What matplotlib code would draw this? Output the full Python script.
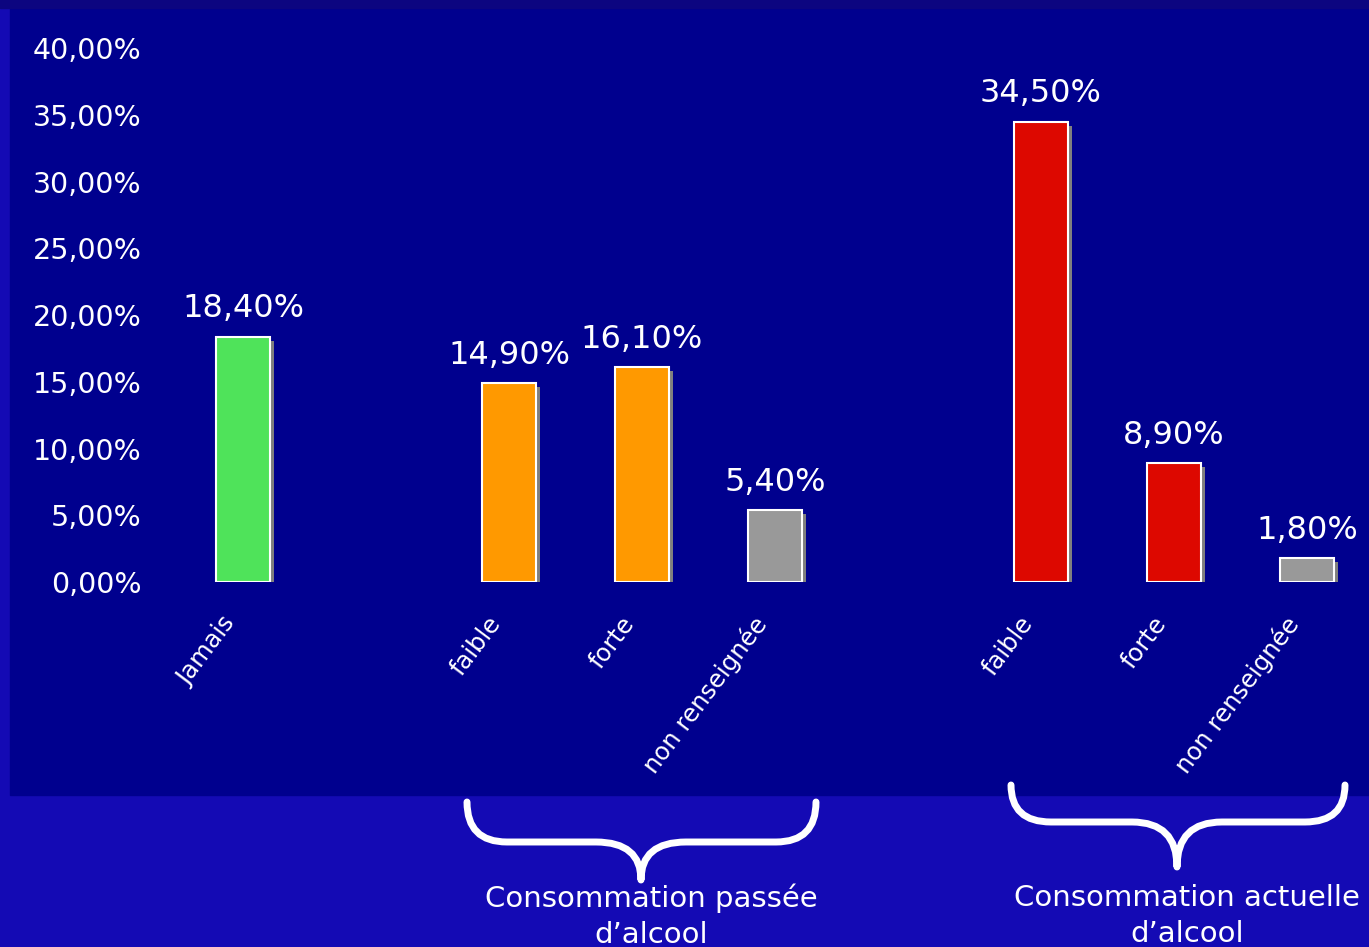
import numpy as np
import matplotlib.pyplot as plt
from matplotlib.patches import Rectangle, PathPatch
from matplotlib.path import Path

# data
categories = ['Jamais', 'faible', 'forte', 'non renseignée', 'faible', 'forte', 'non renseignée']
positions = [0, 2, 3, 4, 6, 7, 8]
values = [18.4, 14.9, 16.1, 5.4, 34.5, 8.9, 1.8]
colors = ['#4fe35a', '#ff9900', '#ff9900', '#999999', '#dd0800', '#dd0800', '#999999']
groups = ['Consommation passée\nd\u2019alcool', 'Consommation actuelle\nd\u2019alcool']
yticks = [0, 5, 10, 15, 20, 25, 30, 35, 40]

W, H = 1369, 947
fig = plt.figure(figsize=(W / 100, H / 100), dpi=100)
fig.patch.set_facecolor('#140ab4')

# dark panel behind the chart, and the darker strip at the very top
fig.patches.append(Rectangle((10 / W, 1 - 795 / H), 1 - 10 / W, (795 - 8) / H,
                             transform=fig.transFigure, color='#00008e', zorder=0))
fig.patches.append(Rectangle((0, 1 - 8 / H), 1, 8 / H,
                             transform=fig.transFigure, color='#0c0580', zorder=0))

# axes: y=0 at pixel 582, y=40 at pixel 48 ; x=0 at pixel 243, 133 px per unit
left_px = 150
ax = fig.add_axes([left_px / W, 1 - 582 / H, 1 - left_px / W, (582 - 48.4) / H])
ax.set_zorder(2)
ax.set_facecolor('none')
ax.set_xlim((left_px - 243) / 133, (W - 243) / 133)
ax.set_ylim(0, 40)
for s in ax.spines.values():
    s.set_visible(False)

# shadow bars, then the coloured bars with white edge
ax.bar(np.array(positions) + 0.035, np.array(values) - 0.3, width=0.4,
       color='#7f7f7f', zorder=1)
ax.bar(positions, values, width=0.4, color=colors, edgecolor='white',
       linewidth=1.5, zorder=2)

for x, v in zip(positions, values):
    ax.text(x, v + 1.45, ('%.2f%%' % v).replace('.', ','), ha='center',
            va='baseline', color='white', fontsize=23)

ax.set_yticks(yticks)
ax.set_yticklabels([('%.2f%%' % t).replace('.', ',') for t in yticks])
ax.tick_params(axis='y', length=0, pad=6, labelsize=20.5, labelcolor='white')
ax.set_xticks([])

# slanted category labels under each bar
for x, c in zip(positions, categories):
    ax.annotate(c, xy=(x, 0), xycoords='data', xytext=(-9, -27),
                textcoords='offset points', rotation=53, ha='right',
                va='center', rotation_mode='anchor', color='white',
                fontsize=17.5, annotation_clip=False)


def brace(x0, x1, yt, ym, yb, xc, r=40, s=45):
    # pixel coords measured from the top, converted to figure fraction
    pts = [(x0, yt), (x0, ym), (x0 + r, ym), (xc - s, ym), (xc, ym), (xc, yb),
           (xc, ym), (xc + s, ym), (x1 - r, ym), (x1, ym), (x1, yt)]
    codes = [Path.MOVETO, Path.CURVE3, Path.CURVE3, Path.LINETO, Path.CURVE3,
             Path.CURVE3, Path.CURVE3, Path.CURVE3, Path.LINETO, Path.CURVE3,
             Path.CURVE3]
    verts = [(px / W, 1 - py / H) for px, py in pts]
    fig.patches.append(PathPatch(Path(verts, codes), transform=fig.transFigure,
                                 fill=False, edgecolor='white', lw=5,
                                 capstyle='round', joinstyle='round'))


brace(467, 816, 802, 842, 880, 641)
brace(1011, 1345, 785, 822, 867, 1177)

fig.text(651 / W, 1 - 916 / H, groups[0], ha='center', va='center',
         color='white', fontsize=21, linespacing=1.35)
fig.text(1187 / W, 1 - 916 / H, groups[1], ha='center', va='center',
         color='white', fontsize=21, linespacing=1.35)

fig.savefig('out.png', dpi=100, facecolor=fig.get_facecolor())
